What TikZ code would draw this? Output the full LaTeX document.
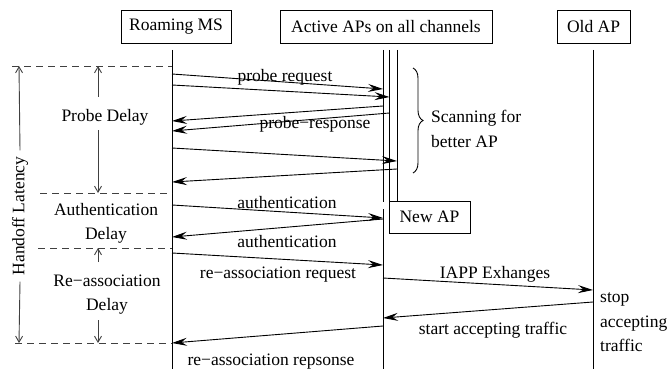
\documentclass[tikz,border=0pt]{standalone}
\usepackage{fontspec}
\setmainfont{Liberation Serif}
\usetikzlibrary{arrows.meta,decorations.pathreplacing}
\begin{document}
\begin{tikzpicture}[x=1pt,y=-1pt,
  every node/.style={font=\fontsize{17.5}{24.5}\selectfont, inner sep=0pt},
  box/.style={draw, line width=0.9pt, minimum height=33pt},
  life/.style={line width=0.9pt},
  msg/.style={line width=0.9pt, -{Stealth[length=15pt,width=8pt,inset=5.5pt]}},
  sep/.style={line width=0.9pt, black!75, dash pattern=on 7pt off 5pt},
  span/.style={line width=0.9pt, black!75, -{Straight Barb[length=6pt,width=7pt]}},
  lbl/.style={align=center}
]
\useasboundingbox (0,0) rectangle (670,369);
% header boxes
\node[box, minimum width=110pt] (ms) at (176,26.5) {Roaming MS};
\node[box, minimum width=212pt] (aps) at (386,26.5) {Active APs on all channels};
\node[box, minimum width=73pt] (old) at (593.5,26.5) {Old AP};
\node[box, minimum width=81pt, minimum height=32pt] (new) at (429.5,217) {New AP};
% lifelines
\coordinate (msT) at (172,50);  \coordinate (msB) at (172,369);
\coordinate (oT) at (593,50);   \coordinate (oB) at (593,369);
\coordinate (a1T) at (383,50);  \coordinate (a1M) at (383,201.5);
\coordinate (a1N) at (383,209); \coordinate (a1B) at (383,369);
\coordinate (a2T) at (389.5,50); \coordinate (a3T) at (397,50);
\draw[life] (msT) -- (msB);
\draw[life] (oT) -- (oB);
\draw[life] (a1T) -- (a1M);
\draw[life] (a1N) -- (a1B);
\draw[life] (a2T) -- (a2T |- new.north);
\draw[life] (a3T) -- (a3T |- new.north);
% messages
\coordinate (m1a) at (172,74);    \coordinate (m1b) at (383,89);
\coordinate (m2a) at (172,85);    \coordinate (m2b) at (389.5,97);
\coordinate (m3a) at (383,106);   \coordinate (m3b) at (172,121);
\coordinate (m4a) at (389.5,113); \coordinate (m4b) at (172,131);
\coordinate (m5a) at (172,148);   \coordinate (m5b) at (397,161);
\coordinate (m6a) at (397,169);   \coordinate (m6b) at (172,182);
\coordinate (m7a) at (172,205);   \coordinate (m7b) at (383,218);
\coordinate (m8a) at (383,219);   \coordinate (m8b) at (172,237);
\coordinate (m9a) at (172,253);   \coordinate (m9b) at (383,265);
\coordinate (m10a) at (383,278);  \coordinate (m10b) at (593,290);
\coordinate (m11a) at (593,302);  \coordinate (m11b) at (383,318);
\coordinate (m12a) at (383,326);  \coordinate (m12b) at (172,343);
\foreach \i in {1,...,12} { \draw[msg] (m\i a) -- (m\i b); }
% message labels
\node (l1) at (285,77) {probe request};
\node (l2) at (315,124) {probe\char"2212 response};
\node (l3) at (287,203) {authentication};
\node (l4) at (287,242) {authentication};
\node (l5) at (278,275) {re\char"2212 association request};
\node (l6) at (495,274) {IAPP Exhanges};
\node (l7) at (493,330) {start accepting traffic};
\node (l8) at (271,362) {re\char"2212 association repsonse};
\node[align=left, anchor=west] (stop) at (600,322.5) {stop\\accepting\\traffic};
% brace
\coordinate (brT) at (413,68); \coordinate (brB) at (413,173);
\draw[line width=0.9pt, decorate, decoration={brace, amplitude=10pt}] (brT) -- (brB);
\node[align=left, anchor=west] (scan) at (431,129) {Scanning for\\better AP};
% separators
\coordinate (s1a) at (12,66);  \coordinate (s1b) at (172,66);
\coordinate (s2a) at (40,193); \coordinate (s2b) at (172,193);
\coordinate (s3a) at (38,248); \coordinate (s3b) at (172,248);
\coordinate (s4a) at (15,343); \coordinate (s4b) at (172,343);
\draw[sep] (s1a) -- (s1b);
\draw[sep] (s2a) -- (s2b);
\draw[sep] (s3a) -- (s3b);
\draw[sep] (s4a) -- (s4b);
% delay labels and spans
\node[rotate=90] (hl) at (20,216) {Handoff Latency};
\draw[span] (hl.east) ++(0,-6) -- (19,66);
\draw[span] (hl.west) ++(0,6) -- (19,343);
\node (pd) at (105,117) {Probe Delay};
\draw[span] (98,97) -- (98,66);
\draw[span] (98,130) -- (98,193);
\node[lbl] (ad) at (106,223.5) {Authentication\\Delay};
\node[lbl] (rd) at (107,294.5) {Re\char"2212 association\\Delay};
\draw[span] (98,262) -- (98,248);
\draw[span] (98,320) -- (98,343);
\end{tikzpicture}
\end{document}
